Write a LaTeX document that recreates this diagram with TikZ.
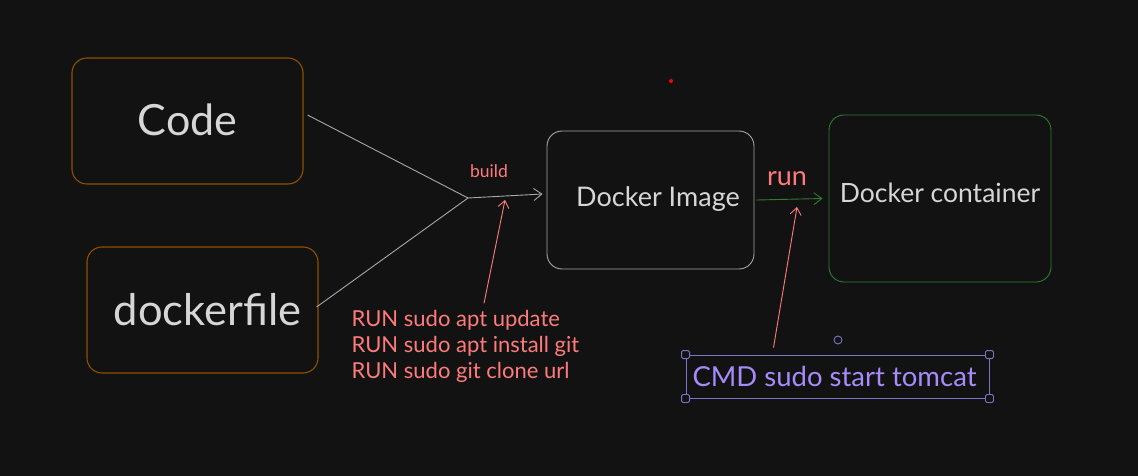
\documentclass[tikz,border=0pt]{standalone}
\usepackage{fontspec}
\setmainfont{Lato}
\usetikzlibrary{arrows.meta}

\definecolor{canvas}{HTML}{121212}
\definecolor{srcorange}{HTML}{8F4E00}
\definecolor{imggray}{HTML}{A8A8A8}
\definecolor{runninggreen}{HTML}{2E7D32}
\definecolor{lighttext}{HTML}{D6D6D6}
\definecolor{notered}{HTML}{FF7B7B}
\definecolor{cmdpurple}{HTML}{A78BFA}
\definecolor{selectframe}{HTML}{7C74C4}

\begin{document}
\begin{tikzpicture}[
            x=1pt,y=-1pt,line width=1.1pt,
            srcnode/.style={rectangle, rounded corners=15pt, draw=srcorange, minimum width=231pt, minimum height=126pt, text=lighttext},
            imagenode/.style={rectangle, rounded corners=15pt, draw=imggray, line width=0.9pt, minimum width=207pt, minimum height=138pt, text=lighttext, font=\fontsize{27}{30}\selectfont},
            containernode/.style={rectangle, rounded corners=15pt, draw=runninggreen, line width=0.9pt, minimum width=222pt, minimum height=167pt, text=lighttext, font=\fontsize{26.5}{30}\selectfont},
            note/.style={text=notered, inner sep=0pt},
            flow/.style={draw=imggray, line width=0.9pt},
            pointer/.style={draw=notered, line width=0.9pt, -{Straight Barb[length=7pt,width=11pt]}},
            handle/.style={rectangle, rounded corners=1.5pt, draw=selectframe, fill=canvas, line width=0.9pt, minimum size=8pt, inner sep=0pt},
            ]
            % Background
            \fill[canvas] (0,0) rectangle (1138,476);
            \useasboundingbox (0,0) rectangle (1138,476);

            % Nodes
            \node[srcnode, font=\fontsize{43}{48}\selectfont] (code) at (187.5,121) {\raisebox{2pt}{Code}};
            \node[srcnode, font=\fontsize{43.5}{48}\selectfont] (dockerfile) at (202.5,310) {\hspace*{10pt}dockerfile};
            \node[imagenode] (image) at (650.5,200) {\hspace*{15pt}\raisebox{6pt}{Docker Image}};
            \node[containernode] (container) at (940,198.5) {\raisebox{12pt}{Docker container}};

            \node[note, font=\fontsize{17.5}{20}\selectfont] (build) at (489,171) {build};
            \node[note, font=\fontsize{27}{30}\selectfont] (run) at (787,179) {run};
            \node[note, font=\fontsize{22}{26}\selectfont, align=left, anchor=west] (runcmds) at (351,346)
                {RUN sudo apt update\\RUN sudo apt install git\\RUN sudo git clone url};

            \node[rectangle, draw=selectframe, line width=0.9pt, minimum width=303pt, minimum height=43pt, text=cmdpurple, inner sep=0pt, font=\fontsize{27.5}{30}\selectfont] (cmd) at (837.5,376.5) {\hspace*{-6pt}CMD sudo start tomcat};
            \foreach \corner in {north west, north east, south west, south east}
                \node[handle] at (cmd.\corner) {};
            \node[circle, draw=selectframe, line width=0.9pt, minimum size=8pt, inner sep=0pt] (rotate) at (838,340) {};

            \coordinate (join) at (468,198);
            \coordinate (buildtip) at (505,200);
            \coordinate (runtip) at (797,207);

            % Lines
            \draw[flow] ([shift={(4,-6)}]code.east) -- (join);
            \draw[flow] ([shift={(-2,-3)}]dockerfile.east) -- (join);
            \draw[flow, -{Straight Barb[length=8pt,width=12pt]}] (join) -- ([shift={(-4,-6)}]image.west);
            \draw[draw=runninggreen, line width=0.9pt, -{Straight Barb[length=8pt,width=12pt]}] ([xshift=2pt]image.east) -- ([xshift=-6pt]container.west);

            \draw[pointer] ([shift={(133,-6)}]runcmds.north west) -- (buildtip);
            \draw[pointer] ([shift={(-64,-7)}]cmd.north) -- (runtip);

            % stray dot
            \fill[red] (671,81) circle (2pt);
\end{tikzpicture}
\end{document}
